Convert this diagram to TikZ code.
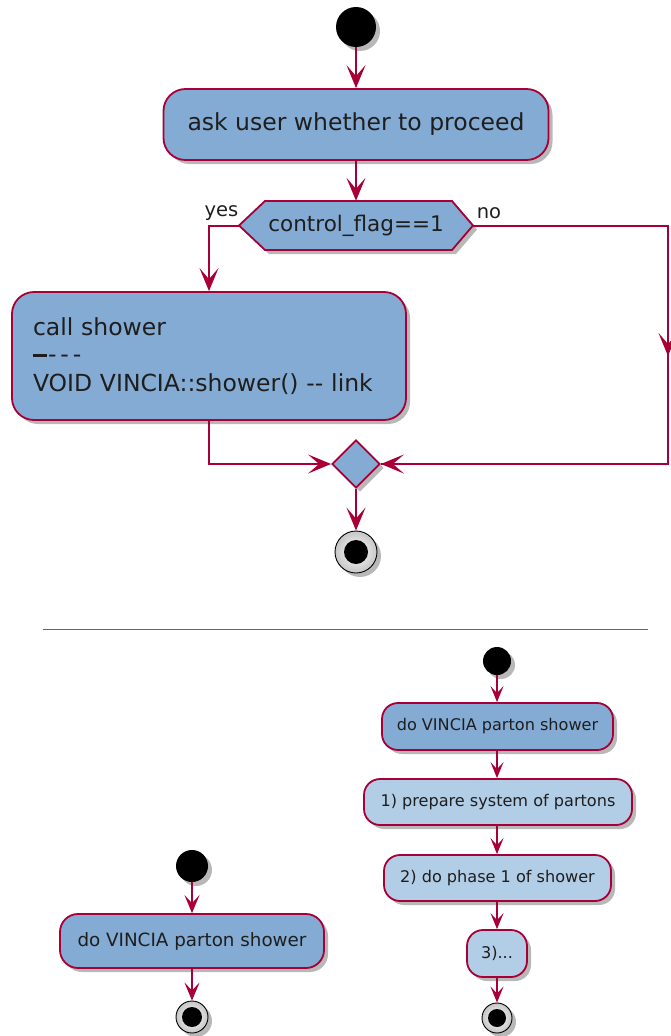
\documentclass[tikz,border=0pt]{standalone}
\usepackage{fontspec}
\setmainfont{DejaVu Sans}
\usetikzlibrary{arrows.meta,shadows,shapes.geometric}
\definecolor{bord}{HTML}{A80036}
\definecolor{dfill}{HTML}{84ABD3}
\definecolor{lfill}{HTML}{B2CDE6}
\definecolor{txt}{HTML}{1E1E1E}
\begin{document}
\begin{tikzpicture}[x=1pt,y=-1pt,
  shd/.style={drop shadow={shadow xshift=4pt,shadow yshift=-4pt,opacity=0.28,fill=black}},
  act/.style={draw=bord,line width=1.8pt,fill=dfill,rounded corners=22pt,inner sep=0pt,text=txt,shd},
  bigf/.style={font=\fontsize{23.5}{28.5}\selectfont},
  midf/.style={font=\fontsize{18.3}{22}\selectfont},
  smlf/.style={font=\fontsize{16.1}{19}\selectfont},
  hexshape/.style={draw=bord,line width=1.8pt,fill=dfill,line join=miter,shd},
  lbl/.style={font=\fontsize{19.5}{22}\selectfont,text=txt,inner sep=0pt},
  wire/.style={draw=bord,line width=2pt},
  arr/.style={wire,-{Stealth[length=23pt,width=19pt,inset=11pt]}},
  arrm/.style={draw=bord,line width=1.5pt,-{Stealth[length=18pt,width=15pt,inset=8pt]}},
  arrs/.style={draw=bord,line width=1.4pt,-{Stealth[length=16pt,width=13pt,inset=7pt]}},
  startn/.style={circle,fill=black,inner sep=0pt,shd},
  stopn/.style={circle,draw=black,line width=0.9pt,inner color=white,outer color=gray!45,inner sep=0pt,shd,
    path picture={\fill[black] (path picture bounding box.center) circle[radius=#1];}},
]
\useasboundingbox (0,0) rectangle (671,1036);

% ---------- top diagram ----------
\node[startn,minimum size=40] (s1) at (356,27) {};
\node[act,bigf,minimum width=385,minimum height=71] (ask) at (356,124.5) {ask user whether to proceed};
\draw[hexshape] (239,225.5) -- (265,201) -- (452,201) -- (473,225.5) -- (452,250) -- (265,250) -- cycle;
\node[inner sep=0pt,minimum width=234,minimum height=49,text=txt,font=\fontsize{21.5}{25}\selectfont] (hex) at (356,225.5) {control\_flag==1};
\node[lbl] (yes) at (221.5,213) {yes};
\node[lbl] (no) at (489,213) {no};
\node[act,bigf,text width=352,inner xsep=21pt,inner ysep=0pt,minimum height=128,align=left] (call) at (209,356)
  {call shower\\[-1pt]{\rule[6pt]{14pt}{3pt}}\hspace{1pt}-\hspace{4pt}-\hspace{4pt}-\\VOID VINCIA::shower() -{}- link};
\node[diamond,aspect=1,draw=bord,line width=1.8pt,fill=dfill,minimum size=48,inner sep=0pt,shd] (dia) at (356,464) {};
\node[stopn=12pt,minimum size=42] (e1) at (356,552) {};
\coordinate (rtop) at (668,225.5);
\coordinate (rmid) at (668,356);
\coordinate (rbot) at (668,464);

\draw[arr] (s1) -- (ask);
\draw[arr] (ask) -- (hex);
\draw[arr] (hex.west) -| (call.north);
\draw[wire] (hex.east) -- (rtop) -- (rbot) -- (dia.east);
\draw[arr] (rtop) -- (rmid);
\draw[arr] (rbot) -- (dia.east);
\draw[arr] (call.south) |- (dia.west);
\draw[arr] (dia) -- (e1);

% ---------- separator ----------
\coordinate (sepL) at (43,629);
\coordinate (sepR) at (648,629);
\draw[gray!80!black,line width=1pt] (sepL) -- (sepR);

% ---------- bottom left ----------
\node[startn,minimum size=32] (s2) at (192,866) {};
\node[act,midf,rounded corners=18pt,minimum width=264,minimum height=54] (b0) at (192,941) {do VINCIA parton shower};
\node[stopn=10pt,minimum size=32] (e2) at (192,1017) {};
\draw[arrm] (s2) -- (b0);
\draw[arrm] (b0) -- (e2);

% ---------- bottom right ----------
\node[startn,minimum size=28] (s3) at (497,661) {};
\node[act,smlf,rounded corners=16pt,minimum width=231,minimum height=47] (b1) at (497.5,726.5) {do VINCIA parton shower};
\node[act,smlf,fill=lfill,rounded corners=16pt,minimum width=268,minimum height=46] (b2) at (498,802) {1) prepare system of partons};
\node[act,smlf,fill=lfill,rounded corners=16pt,minimum width=227,minimum height=46] (b3) at (497.5,878) {2) do phase 1 of shower};
\node[act,smlf,fill=lfill,rounded corners=16pt,minimum width=60,minimum height=47] (b4) at (497,953.5) {3)...};
\node[stopn=9pt,minimum size=30] (e3) at (497,1018) {};
\draw[arrs] (s3) -- (s3 |- b1.north);
\draw[arrs] (b1.south -| s3) -- (s3 |- b2.north);
\draw[arrs] (b2.south -| s3) -- (s3 |- b3.north);
\draw[arrs] (b3.south -| s3) -- (s3 |- b4.north);
\draw[arrs] (b4) -- (e3);
\end{tikzpicture}
\end{document}
